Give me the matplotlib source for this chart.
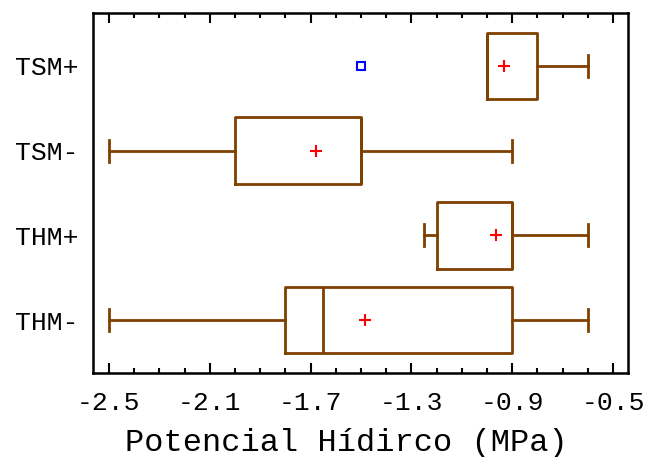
import matplotlib.pyplot as plt
from matplotlib.ticker import MultipleLocator

# grupos (de baixo para cima)
grupos = ['THM-', 'THM+', 'TSM-', 'TSM+']
minimo = [-2.5, -1.25, -2.5, -1.0]
q1 = [-1.8, -1.2, -2.0, -1.0]
mediana = [-1.65, -0.9, -1.5, -1.0]
q3 = [-0.9, -0.9, -1.5, -0.8]
maximo = [-0.6, -0.6, -0.9, -0.6]
media = [-1.486, -0.964, -1.68, -0.934]
atipicos = [[], [], [], [-1.5]]

marrom = '#7f4000'
plt.rcParams['font.family'] = ['Liberation Mono', 'DejaVu Sans Mono']

stats = []
for i, g in enumerate(grupos):
    stats.append({'label': g, 'whislo': minimo[i], 'q1': q1[i], 'med': mediana[i],
                  'q3': q3[i], 'whishi': maximo[i], 'mean': media[i],
                  'fliers': atipicos[i]})

fig = plt.figure(figsize=(6.45, 4.57), dpi=100)
ax = fig.add_axes([0.1447, 0.1845, 0.8293, 0.7871])

ax.bxp(stats, positions=[1, 2, 3, 4], vert=False, widths=0.79,
       showmeans=True, showfliers=True,
       boxprops=dict(color=marrom, linewidth=2),
       medianprops=dict(color=marrom, linewidth=2),
       whiskerprops=dict(color=marrom, linewidth=2),
       capprops=dict(color=marrom, linewidth=2),
       capwidths=0.26,
       meanprops=dict(marker='+', markeredgecolor='red', markersize=9,
                      markeredgewidth=1.5),
       flierprops=dict(marker='s', markerfacecolor='none', markeredgecolor='blue',
                       markersize=6, markeredgewidth=1.5))

ax.set_xlim(-2.562, -0.44)
ax.set_ylim(0.378, 4.626)
ax.xaxis.set_minor_locator(MultipleLocator(0.1))
ax.set_xticks([-2.5, -2.1, -1.7, -1.3, -0.9, -0.5])
ax.set_xticklabels(['-2.5', '-2.1', '-1.7', '-1.3', '-0.9', '-0.5'])
ax.tick_params(axis='x', which='both', direction='in', top=True, bottom=True,
               labelsize=19, pad=13, width=1.5)
ax.tick_params(axis='x', which='major', length=7)
ax.tick_params(axis='x', which='minor', length=3.5)
ax.tick_params(axis='y', length=0, labelsize=19, pad=11)
for s in ax.spines.values():
    s.set_linewidth(1.8)

ax.set_xlabel('Potencial Hídirco (MPa)', fontsize=23)
ax.xaxis.set_label_coords(0.474, -0.155)

plt.savefig('out.png', dpi=100)
